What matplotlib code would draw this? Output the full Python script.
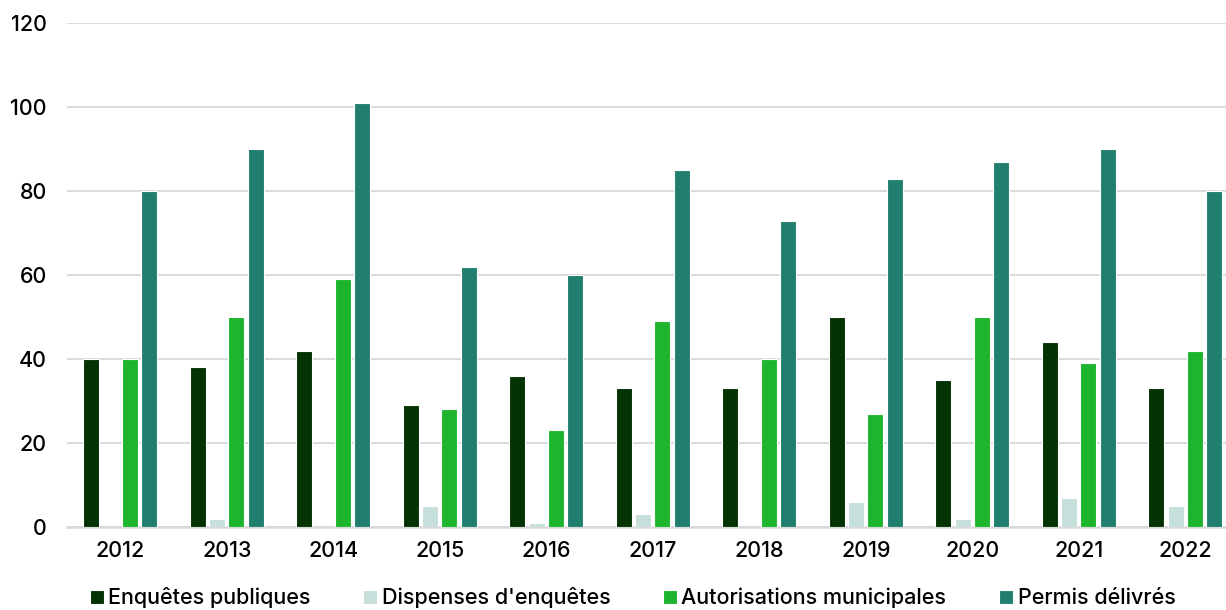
import matplotlib
matplotlib.use("Agg")
import matplotlib.pyplot as plt
import numpy as np

years = ["2012", "2013", "2014", "2015", "2016", "2017", "2018", "2019", "2020", "2021", "2022"]
enquetes = [40, 38, 42, 29, 36, 33, 33, 50, 35, 44, 33]
dispenses = [0, 2, 0, 5, 1, 3, 0, 6, 2, 7, 5]
autorisations = [40, 50, 59, 28, 23, 49, 40, 27, 50, 39, 42]
permis = [80, 90, 101, 62, 60, 85, 73, 83, 87, 90, 80]

series = [
    ("Enquêtes publiques", enquetes, "#033303"),
    ("Dispenses d'enquêtes", dispenses, "#c6dfda"),
    ("Autorisations municipales", autorisations, "#1db52d"),
    ("Permis délivrés", permis, "#217f70"),
]

plt.rcParams["font.family"] = ["Inter", "DejaVu Sans"]
plt.rcParams["font.weight"] = "medium"

fig = plt.figure(figsize=(12.26, 6.10), dpi=100)
ax = fig.add_axes([0.0547, 0.136, 0.9555, 0.826])

x = np.arange(len(years))
step = 0.181
width = 0.15
for i, (name, vals, color) in enumerate(series):
    ax.bar(x + (i - 1.5) * step, vals, width, color=color, label=name,
           edgecolor="white", linewidth=0.8, zorder=3)

ax.set_xlim(-0.5, len(years) - 0.5)
ax.set_ylim(0, 120)
ax.set_yticks(range(0, 121, 20))
ax.set_xticks(x)
ax.set_xticklabels(years)
ax.tick_params(axis="both", length=0, labelsize=15.5, colors="black")
ax.tick_params(axis="y", pad=14.5)
ax.tick_params(axis="x", pad=10)
ax.grid(axis="y", color="#d9d9d9", linewidth=1.3, zorder=0)
for side in ["top", "right", "left"]:
    ax.spines[side].set_visible(False)
ax.spines["bottom"].set_color("#d9d9d9")
ax.spines["bottom"].set_linewidth(1.8)

fig.legend(loc="center", bbox_to_anchor=(0.516, 0.02), ncol=4, frameon=False,
           fontsize=15.5, handlelength=0.65, handleheight=0.65, handletextpad=0.2,
           columnspacing=2.45)

fig.savefig("out.png", dpi=100)
